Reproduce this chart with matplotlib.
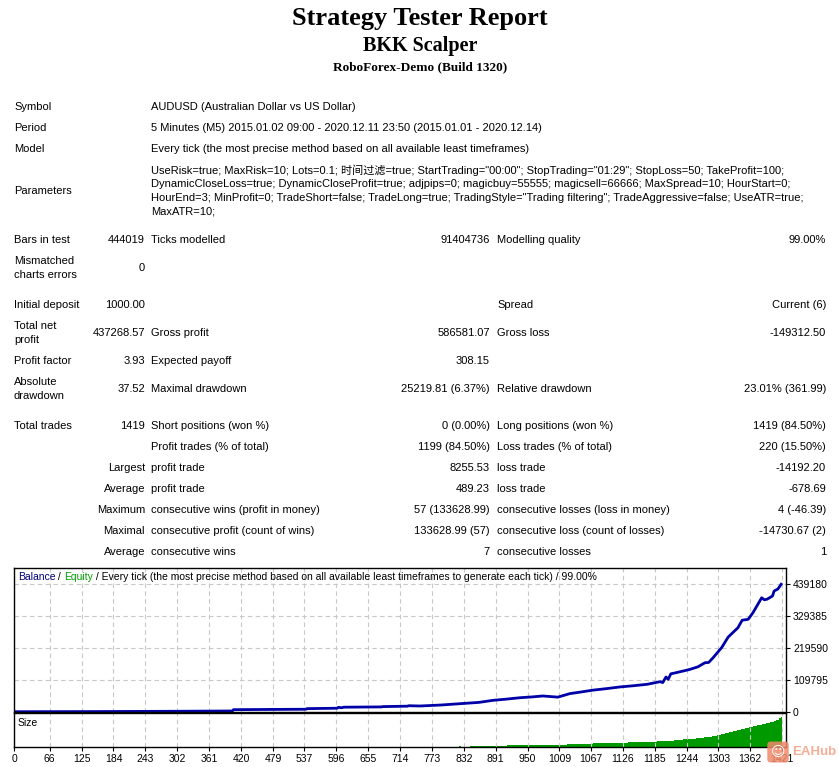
import numpy as np
import matplotlib.pyplot as plt

plt.rcParams['font.family'] = ['Liberation Sans', 'Noto Sans CJK SC', 'DejaVu Sans']

# ---- report values ----
title = "Strategy Tester Report"
expert = "BKK Scalper"
server = "RoboForex-Demo (Build 1320)"

header_rows = [
    ("Symbol", "AUDUSD (Australian Dollar vs US Dollar)"),
    ("Period", "5 Minutes (M5) 2015.01.02 09:00 - 2020.12.11 23:50 (2015.01.01 - 2020.12.14)"),
    ("Model", "Every tick (the most precise method based on all available least timeframes)"),
]
param_lines = [
    'UseRisk=true; MaxRisk=10; Lots=0.1; 时间过滤=true; StartTrading="00:00"; StopTrading="01:29"; StopLoss=50; TakeProfit=100;',
    'DynamicCloseLoss=true; DynamicCloseProfit=true; adjpips=0; magicbuy=55555; magicsell=66666; MaxSpread=10; HourStart=0;',
    'HourEnd=3; MinProfit=0; TradeShort=false; TradeLong=true; TradingStyle="Trading filtering"; TradeAggressive=false; UseATR=true;',
    'MaxATR=10;',
]

# (label, value, label2, value2, label3, value3), label may be two lines
stat_rows = [
    ("Bars in test", "444019", "Ticks modelled", "91404736", "Modelling quality", "99.00%"),
    ("Mismatched\ncharts errors", "0", "", "", "", ""),
    ("Initial deposit", "1000.00", "", "", "Spread", "Current (6)"),
    ("Total net\nprofit", "437268.57", "Gross profit", "586581.07", "Gross loss", "-149312.50"),
    ("Profit factor", "3.93", "Expected payoff", "308.15", "", ""),
    ("Absolute\ndrawdown", "37.52", "Maximal drawdown", "25219.81 (6.37%)", "Relative drawdown", "23.01% (361.99)"),
    ("Total trades", "1419", "Short positions (won %)", "0 (0.00%)", "Long positions (won %)", "1419 (84.50%)"),
    ("", "", "Profit trades (% of total)", "1199 (84.50%)", "Loss trades (% of total)", "220 (15.50%)"),
    ("", "Largest", "profit trade", "8255.53", "loss trade", "-14192.20"),
    ("", "Average", "profit trade", "489.23", "loss trade", "-678.69"),
    ("", "Maximum", "consecutive wins (profit in money)", "57 (133628.99)", "consecutive losses (loss in money)", "4 (-46.39)"),
    ("", "Maximal", "consecutive profit (count of wins)", "133628.99 (57)", "consecutive loss (count of losses)", "-14730.67 (2)"),
    ("", "Average", "consecutive wins", "7", "consecutive losses", "1"),
]
stat_y = [240, 268, 305, 333, 361, 389, 426, 447, 468, 489, 510, 531, 552]

# ---- balance curve (trade number, balance) ----
balance_trades = [0, 150, 300, 404, 406, 540, 542, 598, 600, 606, 610, 680, 682, 728, 730,
                  751, 790, 825, 860, 886, 910, 936, 960, 978, 992, 1006, 1028, 1050, 1071,
                  1095, 1121, 1145, 1171, 1195, 1200, 1206, 1210, 1215, 1225, 1250, 1265,
                  1278, 1285, 1293, 1309, 1321, 1339, 1347, 1358, 1367, 1383, 1388, 1393,
                  1403, 1406, 1413, 1419]
balance = [1000, 1500, 2500, 3500, 8000, 9500, 11500, 13000, 16000, 14500, 16500, 17500, 18500,
           20000, 21500, 20600, 24000, 28500, 33000, 40000, 44000, 49000, 52000, 55000, 53000,
           51000, 63000, 69000, 75000, 80000, 86000, 90000, 95000, 104000, 101000, 120000,
           112000, 131000, 135000, 146000, 155000, 169000, 170000, 186000, 221000, 257000,
           289000, 315000, 318000, 341000, 392000, 385000, 387000, 398000, 415000, 422000,
           438269]

# ---- lot size per trade (from trade number onward) ----
size_trades = [823, 826, 843, 870, 912, 940, 960, 990, 1023, 1050, 1071, 1100, 1120, 1136,
               1160, 1175, 1189, 1200, 1210, 1220, 1227, 1237, 1245, 1255, 1262, 1269, 1277,
               1285, 1292, 1300, 1307, 1315, 1322, 1330, 1337, 1344, 1352, 1360, 1367, 1375,
               1383, 1391, 1399, 1405, 1410, 1415, 1419, 1421]
size_lots = [2, 0, 3, 3.5, 5, 5.5, 6, 7, 8.5, 9.5, 10.5, 12, 13, 13.5, 14.5, 15.5, 16.5, 17,
             18, 19.5, 20.5, 22, 23, 24.5, 25.5, 26.5, 28, 30, 32.5, 35, 38, 41, 44, 47, 50,
             53, 55.5, 59, 62, 65, 68, 71, 74, 77, 80, 83, 86, 86]

x_tick_labels = ["0", "66", "125", "184", "243", "302", "361", "420", "479", "537", "596",
                 "655", "714", "773", "832", "891", "950", "1009", "1067", "1126", "1185",
                 "1244", "1303", "1362", "1421"]
y_ticks = [0, 109795, 219590, 329385, 439180]

# ---- figure ----
W, H = 839, 767
fig = plt.figure(figsize=(W / 100, H / 100), dpi=100)
ax_t = fig.add_axes([0, 0, 1, 1])
ax_t.set_xlim(0, W)
ax_t.set_ylim(H, 0)
ax_t.axis("off")

serif = "Liberation Serif"
ax_t.text(420, 18, title, ha="center", va="center", fontsize=19, fontweight="bold", family=serif)
ax_t.text(420, 46, expert, ha="center", va="center", fontsize=14.5, fontweight="bold", family=serif)
ax_t.text(420, 67, server, ha="center", va="center", fontsize=9.5, fontweight="bold", family=serif)

fs = 8
for (lab, val), y in zip(header_rows, [107, 128, 149]):
    ax_t.text(14, y, lab, fontsize=fs, va="center")
    ax_t.text(151, y, val, fontsize=fs, va="center")
ax_t.text(14, 191, "Parameters", fontsize=fs, va="center")
for line, y in zip(param_lines, [170, 184, 198, 212]):
    ax_t.text(151, y, line, fontsize=fs, va="center")

for row, y in zip(stat_rows, stat_y):
    l1, v1, l2, v2, l3, v3 = row
    if "\n" in l1:
        a, b = l1.split("\n")
        ax_t.text(14, y - 7, a, fontsize=fs, va="center")
        ax_t.text(14, y + 7, b, fontsize=fs, va="center")
    elif l1:
        ax_t.text(14, y, l1, fontsize=fs, va="center")
    ax_t.text(145, y, v1, fontsize=fs, va="center", ha="right")
    ax_t.text(151, y, l2, fontsize=fs, va="center")
    ax_t.text(490, y, v2, fontsize=fs, va="center", ha="right")
    ax_t.text(497, y, l3, fontsize=fs, va="center")
    ax_t.text(826, y, v3, fontsize=fs, va="center", ha="right")

# ---- balance chart ----
def frac(x0, y0, x1, y1):
    return [x0 / W, 1 - y1 / H, (x1 - x0) / W, (y1 - y0) / H]

xmax = 1428
ax = fig.add_axes(frac(14, 568, 786, 712))
ax.plot(balance_trades, balance, color="#0000A8", lw=2)
ax.set_xlim(0, xmax)
ax.set_ylim(0, 439180 * 144 / 128)
tick_pos = [int(t) for t in x_tick_labels]
ax.set_xticks(tick_pos)
ax.set_xticklabels([])
ax.set_yticks(y_ticks)
ax.yaxis.tick_right()
ax.set_yticklabels([str(v) for v in y_ticks], fontsize=7.5)
ax.tick_params(axis="x", length=0)
ax.tick_params(axis="y", length=3, pad=2)
ax.grid(True, ls=(0, (4, 3)), color="#c8c8c8", lw=0.8)
for s in ax.spines.values():
    s.set_color("black")
    s.set_linewidth(1)
tx = ax.text(0.005, 0.94, "Balance", color="#000080", fontsize=7.5, transform=ax.transAxes, va="center")
tx = ax.annotate(" / ", xycoords=tx, xy=(1, 0.5), va="center", fontsize=7.5, color="black")
tx = ax.annotate("Equity", xycoords=tx, xy=(1, 0.5), va="center", fontsize=7.5, color="#00a000")
ax.annotate(" / Every tick (the most precise method based on all available least timeframes to generate each tick) / 99.00%",
            xycoords=tx, xy=(1, 0.5), va="center", fontsize=7.5, color="black")

ax_s = fig.add_axes(frac(14, 713, 786, 747))
ax_s.fill_between(size_trades, size_lots, step="post", color="#009900", lw=0)
ax_s.set_xlim(0, xmax)
ax_s.set_ylim(0, 99)
ax_s.set_yticks([])
ax_s.set_xticks(tick_pos)
ax_s.set_xticklabels(x_tick_labels, fontsize=7.5)
ax_s.tick_params(axis="x", length=3, pad=2)
ax_s.grid(True, axis="x", ls=(0, (4, 3)), color="#c8c8c8", lw=0.8)
ax_s.text(0.005, 0.7, "Size", fontsize=7.5, transform=ax_s.transAxes, va="center")
for s in ax_s.spines.values():
    s.set_color("black")
    s.set_linewidth(1)

# watermark
ax_t.text(778, 752, "\u263a", fontsize=10, color="white", ha="center", va="center", zorder=10,
          family="DejaVu Sans",
          bbox=dict(boxstyle="round,pad=0.25", fc="#f08a6a", ec="none", alpha=0.85))
ax_t.text(792, 752, "EAHub", fontsize=9.5, fontweight="bold", color="#f4a58a", ha="left", va="center",
          family="Liberation Sans", alpha=0.9, zorder=10)
ax_t.set_zorder(5)
ax_t.patch.set_alpha(0)

fig.savefig("out.png", dpi=100)
